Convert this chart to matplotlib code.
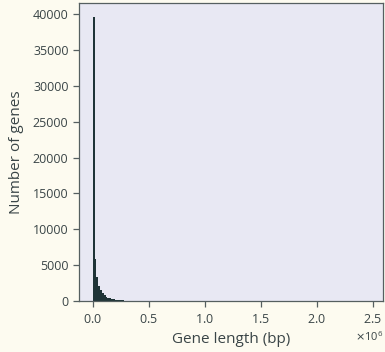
import numpy as np
import matplotlib.pyplot as plt
from matplotlib.ticker import ScalarFormatter

# histogram of gene lengths (counts per bin, bins of equal width from 0 to max length)
max_length = 2470000
n_bins = 150
counts = [39550, 5850, 3380, 2150, 1520, 1100, 800, 600, 460, 360,
          290, 230, 185, 150, 120, 95, 75, 60, 48, 40,
          33, 27, 22, 18, 15, 12, 10, 9, 8, 7,
          6, 5, 5, 4, 4, 3, 3, 3, 2, 2]
counts = counts + [1] * 20 + [0] * (n_bins - len(counts) - 20 - 1) + [1]

edges = np.linspace(0, max_length, n_bins + 1)
centers = (edges[:-1] + edges[1:]) / 2

plt.rcParams['font.family'] = ['Open Sans', 'DejaVu Sans']
text_col = '#3a4547'

fig = plt.figure(figsize=(3.85, 3.52), dpi=100, facecolor='#fdfbf0')
ax = fig.add_axes([0.205, 0.145, 0.79, 0.846])
ax.set_facecolor('#e8e8f3')
ax.hist(centers, bins=edges, weights=counts, color='#1f3437')

for s in ax.spines.values():
    s.set_color('#555f60')
    s.set_linewidth(0.9)
ax.tick_params(colors='#555f60', labelcolor=text_col, labelsize=9, length=4, width=0.9)
ax.tick_params(axis='x', pad=5)
fmt = ScalarFormatter(useMathText=True)
ax.xaxis.set_major_formatter(fmt)
ax.set_xlabel('Gene length (bp)', fontsize=11, color=text_col, labelpad=4)
ax.set_ylabel('Number of genes', fontsize=11, color=text_col, labelpad=6)
ax.xaxis.get_offset_text().set_fontsize(8)
ax.xaxis.get_offset_text().set_color(text_col)
ax.set_yticks(np.arange(0, 40001, 5000))

plt.savefig('out.png', dpi=100, facecolor=fig.get_facecolor())
